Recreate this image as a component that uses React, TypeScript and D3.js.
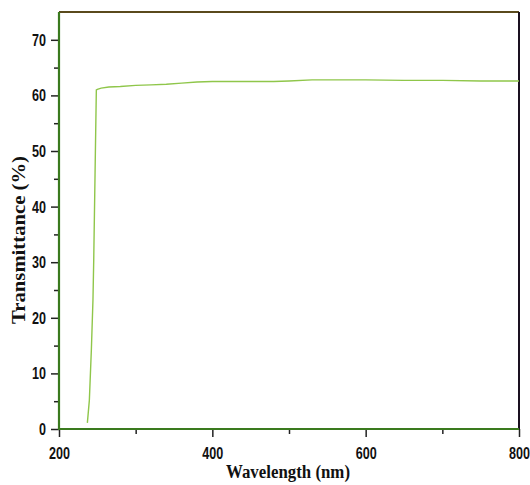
import React, { useEffect, useRef } from 'react';
import * as d3 from 'd3';

const wavelength = [237, 239.6, 242.2, 244.3, 245.3, 247, 248.7, 250, 255, 265, 280, 300, 320, 340, 360, 380, 400, 420, 450, 480, 500, 530, 560, 600, 650, 700, 750, 800];
const transmittance = [1.1, 5.2, 14.2, 23.2, 30.4, 45.7, 61.0, 61.1, 61.3, 61.5, 61.6, 61.8, 61.9, 62.0, 62.2, 62.4, 62.5, 62.5, 62.5, 62.5, 62.6, 62.8, 62.8, 62.8, 62.7, 62.7, 62.6, 62.6];

const xMajor = [200, 400, 600, 800];
const xMinor = [300, 500, 700];
const yMajor = [0, 10, 20, 30, 40, 50, 60, 70];
const yMinor = [5, 15, 25, 35, 45, 55, 65];

const W = 530;
const H = 485;

const App = () => {
  const ref = useRef<SVGSVGElement>(null);

  useEffect(() => {
    const svg = d3.select(ref.current);
    svg.selectAll('*').remove();

    const left = 59, right = 519, top = 12, bottom = 429;

    const x = d3.scaleLinear().domain([200, 800]).range([left, right]);
    const y = d3.scaleLinear().domain([0, 75]).range([bottom, top]);

    const tickFont = "'Liberation Sans', Arial, sans-serif";
    // narrow look of the original labels
    const styleLabels = (sel: d3.Selection<any, any, any, any>) => sel
      .attr('font-family', tickFont)
      .attr('font-weight', 'bold')
      .attr('font-size', 17)
      .attr('fill', '#111')
      .attr('textLength', (d: number) => String(d).length * 7)
      .attr('lengthAdjust', 'spacingAndGlyphs');

    // minor ticks
    svg.append('g')
      .attr('transform', `translate(${left},0)`)
      .call(d3.axisLeft(y).tickValues(yMinor).tickSize(5).tickFormat(() => ''))
      .call(g => g.select('.domain').remove())
      .call(g => g.selectAll('line').attr('stroke', '#222').attr('stroke-width', 1.5));
    svg.append('g')
      .attr('transform', `translate(0,${bottom})`)
      .call(d3.axisBottom(x).tickValues(xMinor).tickSize(5).tickFormat(() => ''))
      .call(g => g.select('.domain').remove())
      .call(g => g.selectAll('line').attr('stroke', '#222').attr('stroke-width', 1.5));

    // major ticks + labels
    const yAxis = svg.append('g')
      .attr('transform', `translate(${left},0)`)
      .call(d3.axisLeft(y).tickValues(yMajor).tickSize(8).tickPadding(5).tickFormat(d3.format('d')));
    yAxis.select('.domain').remove();
    yAxis.selectAll('line').attr('stroke', '#222').attr('stroke-width', 1.5);
    styleLabels(yAxis.selectAll('text'));

    const xAxis = svg.append('g')
      .attr('transform', `translate(0,${bottom})`)
      .call(d3.axisBottom(x).tickValues(xMajor).tickSize(8).tickPadding(10).tickFormat(d3.format('d')));
    xAxis.select('.domain').remove();
    xAxis.selectAll('line').attr('stroke', '#222').attr('stroke-width', 1.5);
    styleLabels(xAxis.selectAll('text'));

    // frame
    svg.append('line').attr('x1', left).attr('x2', right).attr('y1', top).attr('y2', top)
      .attr('stroke', '#5a4a1c').attr('stroke-width', 2);
    svg.append('line').attr('x1', right).attr('x2', right).attr('y1', top).attr('y2', bottom)
      .attr('stroke', '#1a1020').attr('stroke-width', 2);
    svg.append('line').attr('x1', left).attr('x2', left).attr('y1', top).attr('y2', bottom + 1)
      .attr('stroke', '#3a7a1e').attr('stroke-width', 2.2);
    svg.append('line').attr('x1', left - 1).attr('x2', right).attr('y1', bottom).attr('y2', bottom)
      .attr('stroke', '#3a7a1e').attr('stroke-width', 2.2);

    // data line
    const pts = wavelength.map((w, i) => [w, transmittance[i]] as [number, number]);
    const line = d3.line<[number, number]>().x(d => x(d[0])).y(d => y(d[1]));
    svg.append('path')
      .datum(pts)
      .attr('d', line)
      .attr('fill', 'none')
      .attr('stroke', '#8fc64a')
      .attr('stroke-width', 1.4);

    // titles
    svg.append('text')
      .attr('x', 288)
      .attr('y', 478)
      .attr('text-anchor', 'middle')
      .attr('font-family', "'Liberation Serif', 'Times New Roman', serif")
      .attr('font-weight', 'bold')
      .attr('font-size', 18)
      .attr('textLength', 124)
      .attr('lengthAdjust', 'spacingAndGlyphs')
      .attr('fill', '#111')
      .text('Wavelength (nm)');

    svg.append('text')
      .attr('transform', `translate(25,240) rotate(-90)`)
      .attr('text-anchor', 'middle')
      .attr('font-family', "'Liberation Serif', 'Times New Roman', serif")
      .attr('font-weight', 'bold')
      .attr('font-size', 18)
      .attr('textLength', 168)
      .attr('lengthAdjust', 'spacingAndGlyphs')
      .attr('fill', '#111')
      .text('Transmittance (%)');
  }, []);

  return (
    <svg ref={ref} width={W} height={H} style={{ position: 'absolute', left: 0, top: 0, background: '#fff' }} />
  );
};

export default App;
